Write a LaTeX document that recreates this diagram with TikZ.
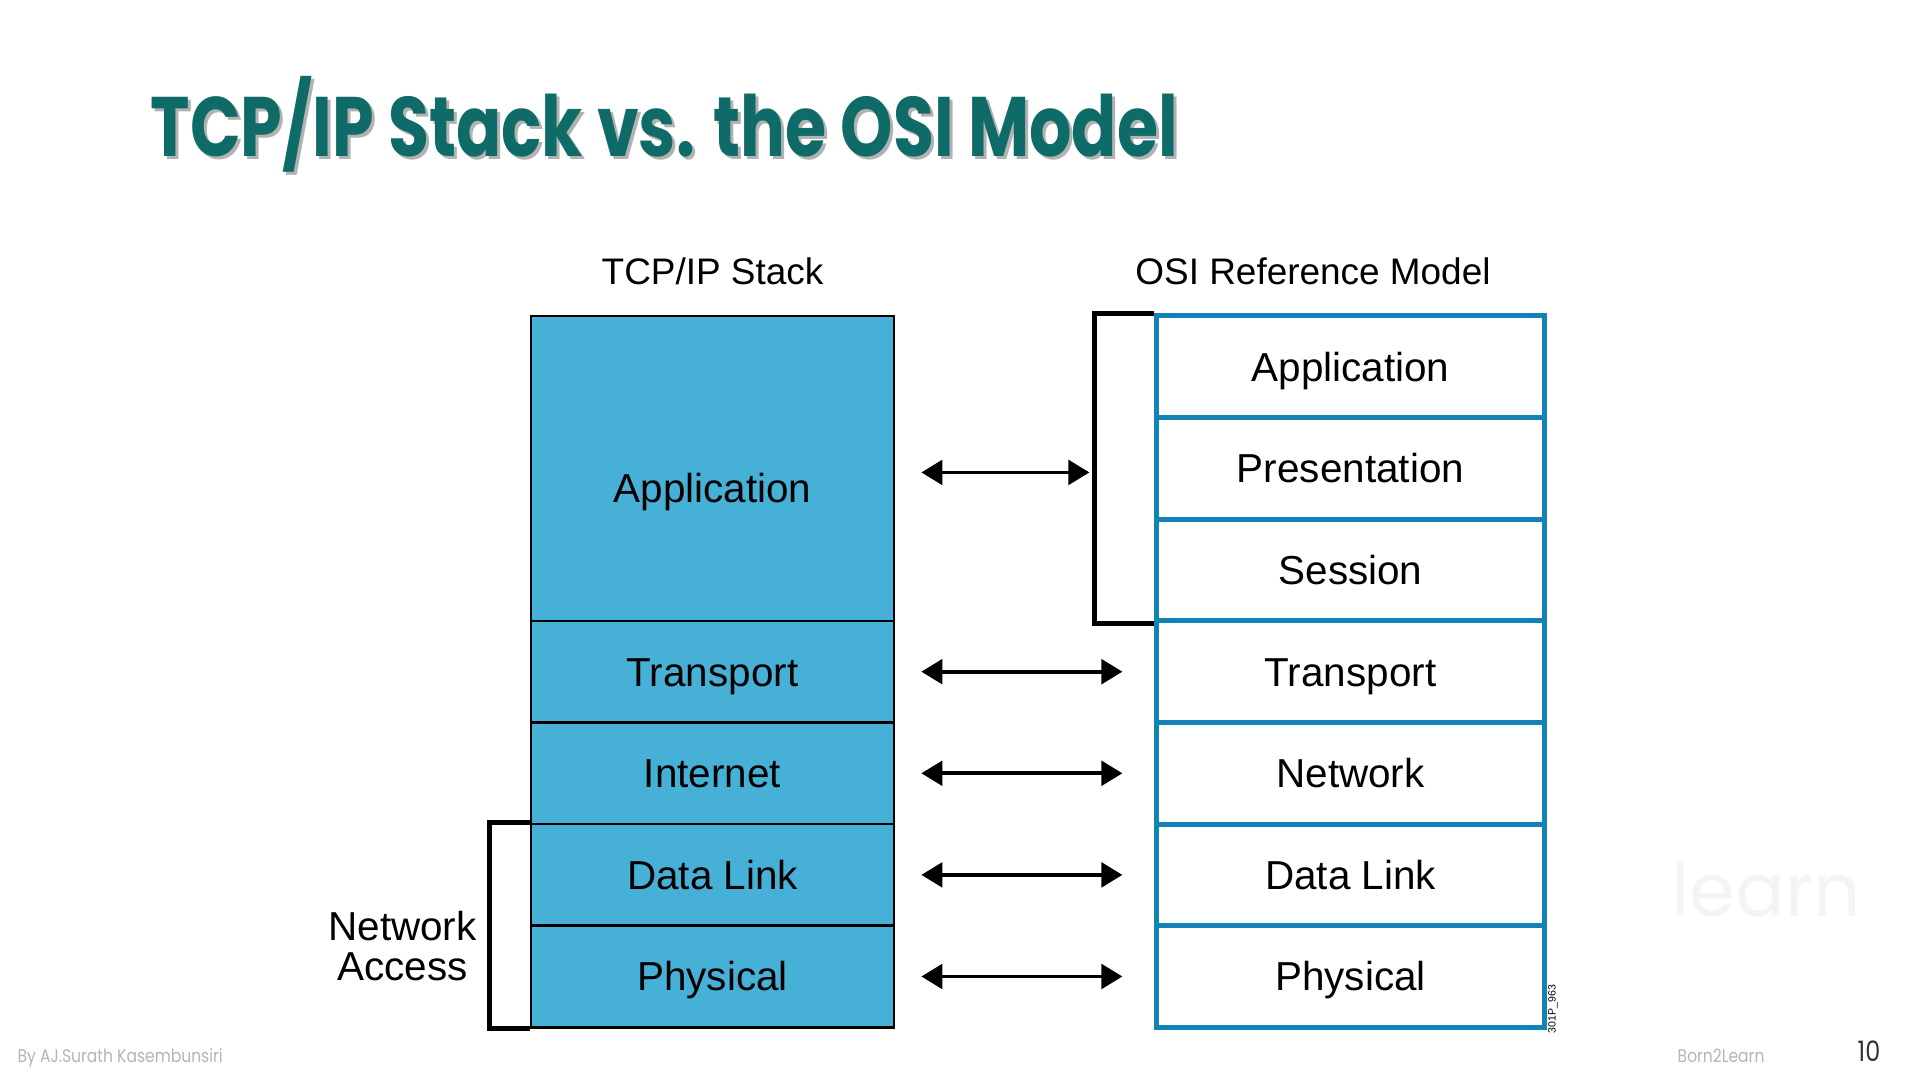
\documentclass[tikz,border=0pt]{standalone}
\usepackage{fontspec}
\setmainfont{Liberation Sans}
\newfontfamily\titlefont{Poppins}[FakeStretch=0.79]
\newfontfamily\footfont{Poppins}[FakeStretch=0.85]
\newfontfamily\markfont{Poppins}
\usetikzlibrary{arrows.meta,positioning,calc}
\definecolor{slTeal}{HTML}{0F6B68}
\definecolor{slTcpBlue}{HTML}{47B0D7}
\definecolor{slOsiBlue}{HTML}{1382B7}
\definecolor{slFoot}{HTML}{B5B5B5}
\definecolor{slMark}{HTML}{F4F4F4}
\tikzset{
  ttl/.style={anchor=base west, inner sep=0pt, text=slTeal, font=\titlefont\bfseries\fontsize{24}{28}\selectfont},
  hdr/.style={anchor=base, inner sep=0pt, font=\fontsize{10.5}{12}\selectfont},
  tcpL/.style={draw=black, line width=0.7pt, fill=slTcpBlue, minimum width=3.63cm, minimum height=1.016cm, inner sep=0pt, text height=8.2pt, text depth=0pt, font=\fontsize{11.5}{13}\selectfont},
  osiL/.style={draw=slOsiBlue, line width=1.4pt, fill=white, minimum width=3.87cm, minimum height=1.016cm, inner sep=0pt, text height=8.2pt, text depth=0pt, font=\fontsize{11.5}{13}\selectfont},
  biarr/.style={{Triangle[length=6pt,width=7pt]}-{Triangle[length=6pt,width=7pt]}, line width=1.1pt, draw=black, shorten <=0.26cm},
  brk/.style={draw=black, line width=1.4pt},
  foot/.style={anchor=base west, inner sep=0pt, text=slFoot, font=\footfont\fontsize{5.2}{6}\selectfont},
}
\begin{document}
\begin{tikzpicture}[x=0.01cm, y=-0.01cm]
    \fill[white] (0,0) rectangle (1918,1077);
    \useasboundingbox (0,0) rectangle (1918,1077);
    % title with its shadow
    \node[ttl, text=black!30] (titleShd) at (153,160) {TCP/IP Stack vs. the OSI Model};
    \node[ttl] (title) at (150,157) {TCP/IP Stack vs. the OSI Model};
    \node[hdr] (tcpHdr) at (712.5,285) {TCP/IP Stack};
    \node[hdr] (osiHdr) at (1313,285) {OSI Reference Model};
    % watermark
    \node[anchor=base west, inner sep=0pt, text=slMark, font=\markfont\fontsize{21}{24}\selectfont] (mark) at (1671,917) {learn};
    % TCP/IP stack
    \node[tcpL, minimum height=3.048cm, text height=19.6pt] (tcpL1) at (712.5,468.4) {Application};
    \foreach \i/\yy/\txt in {4/671.7/Transport, 5/773.3/Internet, 6/874.9/Data Link, 7/976.5/Physical}{
        \node[tcpL] (tcpL\i) at (712.5,\yy) {\txt};
    }
    % OSI model
    \foreach \i/\yy/\txt in {1/366.8/Application, 2/468.4/Presentation, 3/570.1/Session, 4/671.7/Transport, 5/773.3/Network, 6/874.9/Data Link, 7/976.5/Physical}{
        \node[osiL] (osiL\i) at (1350.5,\yy) {\txt};
    }
    % brackets
    \draw[brk] (osiL1.north west) -- ++(-60,0) |- (osiL3.south west);
    \coordinate (osiBrk) at ($(osiL1.north west)!0.5!(osiL3.south west) + (-60,4)$);
    \draw[brk] (tcpL6.north west) -- ++(-40,0) |- (tcpL7.south west);
    \node[align=center, inner sep=0pt, font=\fontsize{11.5}{11.4}\selectfont] (netAcc) at (402.5,946) {Network\\Access};
    % arrows
    \draw[biarr, shorten >=0.05cm] (tcpL1.east |- osiBrk) -- (osiBrk);
    \foreach \i in {4,...,7}{
        \draw[biarr, shorten >=0.32cm] (tcpL\i.east) -- (osiL\i.west);
    }
    \node[rotate=90, inner sep=0pt, font=\fontsize{3}{3}\selectfont] (figId) at (1553,1009) {301P\_963};
    % footer
    \node[foot] (author) at (17,1063) {By AJ.Surath Kasembunsiri};
    \node[foot] (brand) at (1677,1063) {Born2Learn};
    \node[foot, text=black!80, font=\footfont\fontsize{8}{9}\selectfont] (pageNo) at (1857,1062) {10};
\end{tikzpicture}
\end{document}
